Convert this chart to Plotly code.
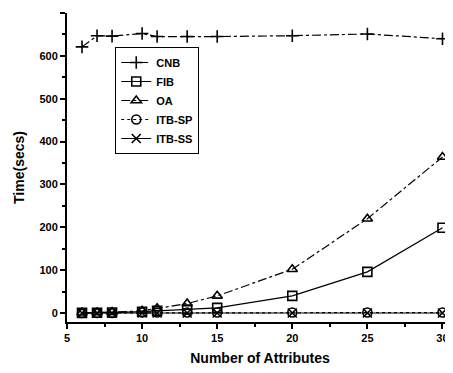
import plotly.graph_objects as go

x_vals = [6, 7, 8, 10, 11, 13, 15, 20, 25, 30]
cnb = [621, 647, 646, 652, 645, 645, 645, 647, 651, 640]
fib = [0.3, 0.5, 1, 3, 5, 8, 12, 40, 96, 199]
oa = [0.5, 1, 2, 5, 11, 22, 40, 102, 220, 364]
itb_sp = [0, 0, 0, 1, 1, 1, 1, 1, 1, 1]
itb_ss = [0, 0, 0, 0, 0, 0, 0, 0, 0, 0]
names = ["CNB", "FIB", "OA", "ITB-SP", "ITB-SS"]

series = [
    (cnb, "dashdot", "cross-thin-open"),
    (fib, "solid", "square-open"),
    (oa, "dashdot", "triangle-up-open"),
    (itb_sp, "dot", "circle-open"),
    (itb_ss, "solid", "x-thin-open"),
]

fig = go.Figure()
for name, (ys, dash, sym) in zip(names, series):
    fig.add_trace(go.Scatter(
        x=x_vals, y=ys, name=name, mode="lines+markers",
        line=dict(color="black", width=1.2, dash=dash),
        marker=dict(symbol=sym, size=9, color="black",
                    line=dict(color="black", width=1.6)),
    ))

font_family = "Liberation Sans, Arial, sans-serif"
fig.update_layout(
    width=445, height=365,
    margin=dict(l=59, r=0, t=5, b=51),
    paper_bgcolor="white", plot_bgcolor="white",
    font=dict(family=font_family, color="black", size=11),
    showlegend=True,
    legend=dict(x=0.125, y=0.89, xanchor="left", yanchor="top",
                bordercolor="black", borderwidth=1, bgcolor="white",
                font=dict(size=11, family=font_family, weight="bold", color="black"),
                tracegroupgap=0, itemwidth=30),
    xaxis=dict(range=[5, 30.7], tickvals=[5, 10, 15, 20, 25, 30],
               showline=True, linecolor="black", linewidth=2,
               ticks="outside", ticklen=5, tickwidth=1.5, tickcolor="black",
               showgrid=False, zeroline=False,
               minor=dict(dtick=2.5, tick0=5, ticks="outside", ticklen=3, tickcolor="black"),
               tickfont=dict(size=11, family=font_family, weight="bold", color="black"),
               title=dict(text="Number of Attributes",
                          font=dict(size=14, weight="bold", color="black"), standoff=10)),
    yaxis=dict(range=[-21, 700], tickvals=[0, 100, 200, 300, 400, 500, 600, 700],
               showline=True, linecolor="black", linewidth=2,
               ticks="outside", ticklen=5, tickwidth=1.5, tickcolor="black",
               showgrid=False, zeroline=False,
               minor=dict(dtick=50, tick0=0, ticks="outside", ticklen=3, tickcolor="black"),
               tickfont=dict(size=11, family=font_family, weight="bold", color="black"),
               title=dict(text="Time(secs)",
                          font=dict(size=14, weight="bold", color="black"), standoff=12)),
)
fig.write_html("out.html")
